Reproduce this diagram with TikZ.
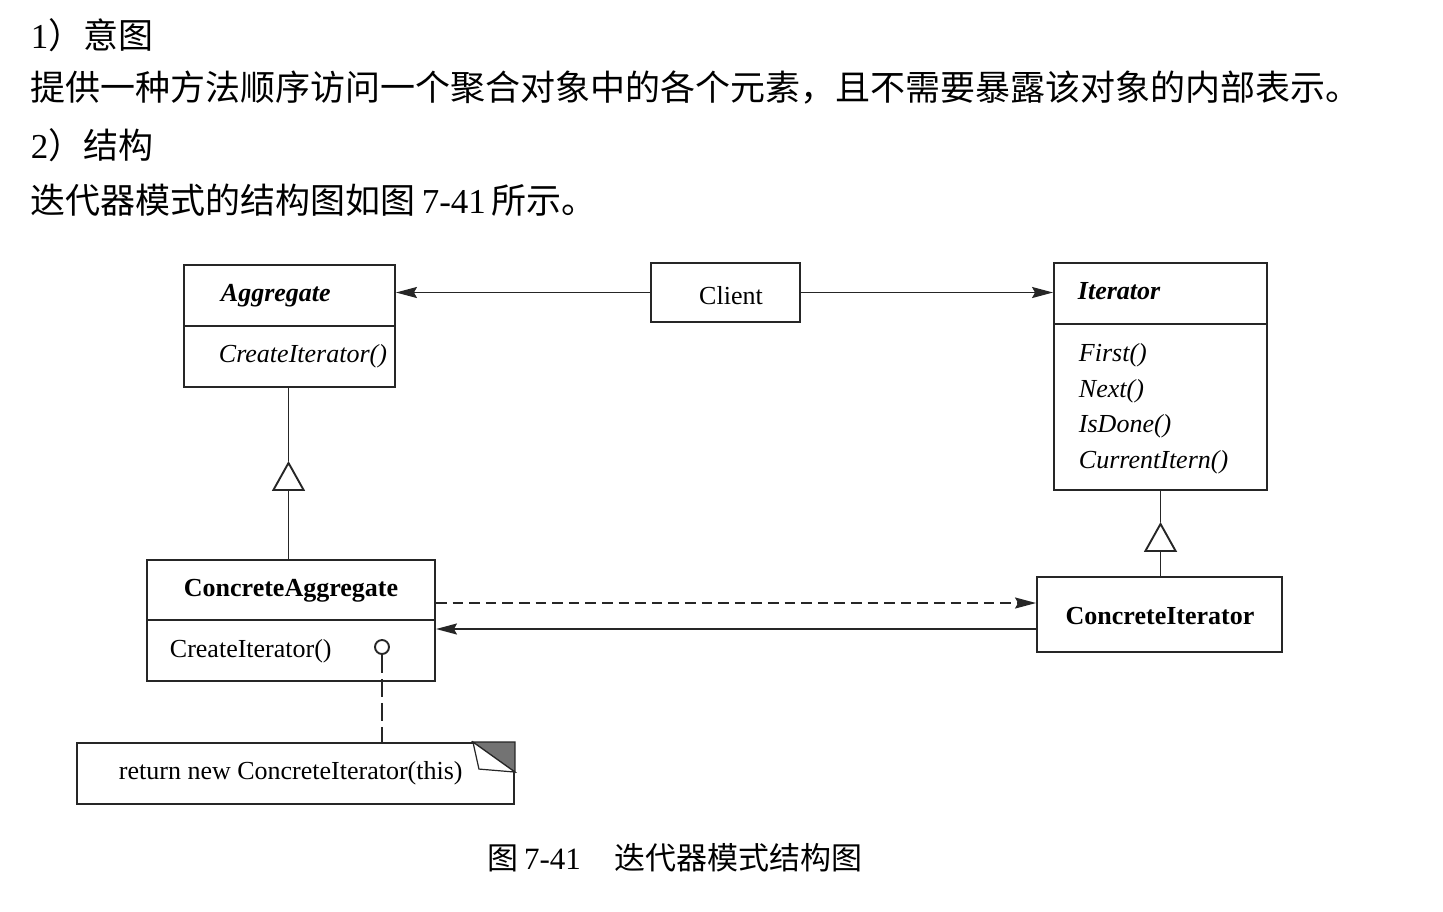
\documentclass[tikz,border=0pt]{standalone}
\usepackage{fontspec}
\setmainfont{Liberation Serif}
\newfontfamily\cjk{Noto Sans CJK SC}
\usetikzlibrary{arrows.meta,calc}
\begin{document}
\begin{tikzpicture}[x=0.5pt,y=-0.5pt, line width=0.95pt, draw=black!85,
  box/.style={draw, inner sep=0pt},
  tx/.style={inner sep=0pt, font=\fontsize{13}{15}\selectfont},
  txb/.style={inner sep=0pt, font=\fontsize{13}{15}\selectfont\bfseries},
  txi/.style={inner sep=0pt, font=\fontsize{13}{15}\selectfont\itshape},
  txbi/.style={inner sep=0pt, font=\fontsize{13}{15}\selectfont\bfseries\itshape},
  cn/.style={inner sep=0pt, anchor=west, font=\fontsize{17.5}{20}\selectfont},
  captxt/.style={inner sep=0pt, anchor=west, font=\fontsize{15.5}{18}\selectfont},
  arr/.style={-{Stealth[length=10.5pt,width=5.5pt,inset=1.5pt]}},
  gen/.style={-{Triangle[open,length=15pt,width=16.5pt]}},
  dsh/.style={dash pattern=on 5.3pt off 3pt},
  ldsh/.style={dash pattern=on 9pt off 3pt}]
\useasboundingbox (0,0) rectangle (1443,911);

% heading text
\node[cn] (h1) at (30,35) {1{\cjk ）意图}};
\node[cn] (h2) at (30,88) {\cjk 提供一种方法顺序访问一个聚合对象中的各个元素，且不需要暴露该对象的内部表示。};
\node[cn] (h3) at (30,145) {2{\cjk ）结构}};
\node[cn] (h4) at (30,200) {{\cjk 迭代器模式的结构图如图}\,7-41\,{\cjk 所示。}};

% Aggregate
\node[box, minimum width=105.5pt, minimum height=30.5pt] (aggh) at (289.5,295.5) {};
\node[box, minimum width=105.5pt, minimum height=30.5pt] (aggb) at (289.5,356.5) {};
\node[txbi, anchor=base west] (aggt) at (220,301) {Aggregate};
\node[txi, anchor=base west] (aggm) at (218,362) {CreateIterator()};

% Client
\node[box, minimum width=74.5pt, minimum height=29.5pt] (client) at (725.5,292.5) {};
\node[tx, anchor=base] (clientt) at (731,304) {Client};

% Iterator
\node[box, minimum width=106.5pt, minimum height=30.5pt] (ith) at (1160.5,293.5) {};
\node[box, minimum width=106.5pt, minimum height=83pt] (itb) at (1160.5,407) {};
\node[txbi, anchor=base west] (itt) at (1077,299) {Iterator};
\node[txi, anchor=base west] (m1) at (1078,361) {First()};
\node[txi, anchor=base west] (m2) at (1078,397) {Next()};
\node[txi, anchor=base west] (m3) at (1078,432) {IsDone()};
\node[txi, anchor=base west] (m4) at (1078,468) {CurrentItern()};

% ConcreteAggregate
\node[box, minimum width=144pt, minimum height=30pt] (cah) at (291,590) {};
\node[box, minimum width=144pt, minimum height=30.5pt] (cab) at (291,650.5) {};
\node[txb, anchor=base] (cat) at (291,596) {ConcreteAggregate};
\node[tx, anchor=base west] (cam) at (169,657) {CreateIterator()};
\node[draw, circle, minimum size=7pt, inner sep=0pt] (circ) at (382,647) {};

% ConcreteIterator
\node[box, minimum width=122.5pt, minimum height=37.5pt] (ci) at (1159.5,614.5) {};
\node[txb, anchor=base] (cit) at (1160,624) {ConcreteIterator};

% Note
\node[box, minimum width=218.5pt, minimum height=30.5pt] (note) at (295.5,773.5) {};
\node[tx, anchor=base west] (notet) at (118,779) {return new ConcreteIterator(this)};
\filldraw[fill=black!55, line width=0.6pt] ($(note.north east)+(-42,0)$) -- (note.north east) -- ++(0,30) -- cycle;
\draw[fill=white, line width=0.6pt] ($(note.north east)+(-42,0)$) -- ++(6,27) -- ++(36,3) -- cycle;

% connectors
\draw[arr] (client.west) -- (client.west -| aggh.east);
\draw[arr] (client.east) -- (client.east -| ith.west);

\coordinate (ga) at ($(aggb.south)+(-1,73)$);
\draw[gen] (ga |- cah.north) -- (ga);
\draw (ga) -- (ga |- aggb.south);

\coordinate (gi) at ($(itb.south)+(0,31)$);
\draw[gen] (gi |- ci.north) -- (gi);
\draw (gi) -- (itb.south);

\draw[arr, dsh] ([yshift=-6.5pt]cah.east) -- ([yshift=-6.5pt]cah.east -| ci.west);
\draw[arr] ([yshift=-7.25pt]ci.west) -- ([yshift=-7.25pt]ci.west -| cah.east);

\draw[ldsh] (circ.south) -- (circ.south |- note.north);

% caption
\node[captxt] (caption) at (487,858) {{\cjk 图}\,7-41\hspace{17pt}{\cjk 迭代器模式结构图}};
\end{tikzpicture}
\end{document}
